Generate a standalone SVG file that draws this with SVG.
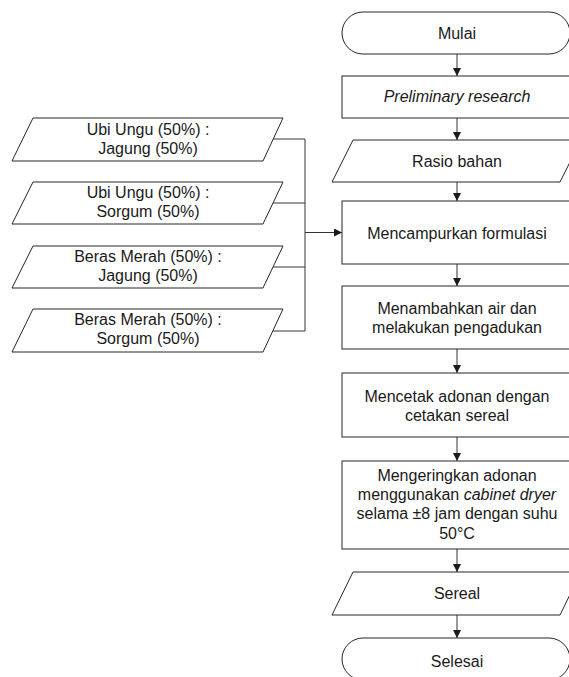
<svg xmlns="http://www.w3.org/2000/svg" width="569" height="677" viewBox="0 0 569 677">
<style>
.s{fill:#fff;stroke:#262626;stroke-width:1}
.t{font-family:"Liberation Sans",Arial,sans-serif;font-size:16px;fill:#1a1a1a;text-anchor:middle}
.c{fill:none;stroke:#333;stroke-width:1}
.a{marker-end:url(#ah)}
</style>
<defs>
<marker id="ah" markerUnits="userSpaceOnUse" markerWidth="8" markerHeight="8" refX="8" refY="4" orient="auto">
<path d="M0,0 L8,4 L0,8 Z" fill="#1a1a1a"/>
</marker>
</defs>
<rect width="569" height="677" fill="#fff"/>
<g id="connectors">
<line class="c a" x1="457" y1="54" x2="457" y2="76"/>
<line class="c a" x1="457" y1="118" x2="457" y2="140"/>
<line class="c a" x1="457" y1="182" x2="457" y2="201"/>
<line class="c a" x1="457" y1="264" x2="457" y2="286"/>
<line class="c a" x1="457" y1="349" x2="457" y2="373"/>
<line class="c a" x1="457" y1="437" x2="457" y2="461"/>
<line class="c a" x1="457" y1="549" x2="457" y2="572"/>
<line class="c a" x1="457" y1="615" x2="457" y2="638"/>
<polyline class="c" points="273,139 305,139 305,331 273,331"/>
<line class="c" x1="273" y1="203" x2="305" y2="203"/>
<line class="c" x1="273" y1="267" x2="305" y2="267"/>
<line class="c a" x1="305" y1="232.5" x2="342" y2="232.5"/>
</g>
<g id="mulai">
<rect class="s" x="342" y="12" width="228" height="42" rx="21" ry="21"/>
<text class="t" x="457" y="39">Mulai</text>
</g>
<g id="preliminary">
<rect class="s" x="342" y="76" width="230" height="42"/>
<text class="t" x="457" y="102" font-style="italic">Preliminary research</text>
</g>
<g id="rasio">
<polygon class="s" points="353,140 581,140 560,182 332,182"/>
<text class="t" x="457" y="167">Rasio bahan</text>
</g>
<g id="in1">
<polygon class="s" points="33,118 283,118 263,161 12,161"/>
<text class="t" x="148" y="135">Ubi Ungu (50%) :</text>
<text class="t" x="148" y="154">Jagung (50%)</text>
</g>
<g id="in2">
<polygon class="s" points="33,182 283,182 263,224 12,224"/>
<text class="t" x="148" y="198">Ubi Ungu (50%) :</text>
<text class="t" x="148" y="217">Sorgum (50%)</text>
</g>
<g id="in3">
<polygon class="s" points="33,246 283,246 263,288 12,288"/>
<text class="t" x="148" y="262">Beras Merah (50%) :</text>
<text class="t" x="148" y="281">Jagung (50%)</text>
</g>
<g id="in4">
<polygon class="s" points="33,309 283,309 263,352 12,352"/>
<text class="t" x="148" y="325">Beras Merah (50%) :</text>
<text class="t" x="148" y="344">Sorgum (50%)</text>
</g>
<g id="mencampurkan">
<rect class="s" x="342" y="201" width="230" height="63"/>
<text class="t" x="457" y="239">Mencampurkan formulasi</text>
</g>
<g id="menambahkan">
<rect class="s" x="342" y="286" width="230" height="63"/>
<text class="t" x="457" y="314">Menambahkan air dan</text>
<text class="t" x="457" y="333">melakukan pengadukan</text>
</g>
<g id="mencetak">
<rect class="s" x="342" y="373" width="230" height="64"/>
<text class="t" x="457" y="402">Mencetak adonan dengan</text>
<text class="t" x="457" y="421">cetakan sereal</text>
</g>
<g id="mengeringkan">
<rect class="s" x="342" y="461" width="230" height="88"/>
<text class="t" x="457" y="481">Mengeringkan adonan</text>
<text class="t" x="457" y="500">menggunakan <tspan font-style="italic">cabinet dryer</tspan></text>
<text class="t" x="457" y="519">selama ±8 jam dengan suhu</text>
<text class="t" x="457" y="539">50°C</text>
</g>
<g id="sereal">
<polygon class="s" points="353,572 581,572 560,615 332,615"/>
<text class="t" x="457" y="599">Sereal</text>
</g>
<g id="selesai">
<rect class="s" x="342" y="638" width="228" height="42" rx="21" ry="21"/>
<text class="t" x="457" y="667">Selesai</text>
</g>
</svg>
